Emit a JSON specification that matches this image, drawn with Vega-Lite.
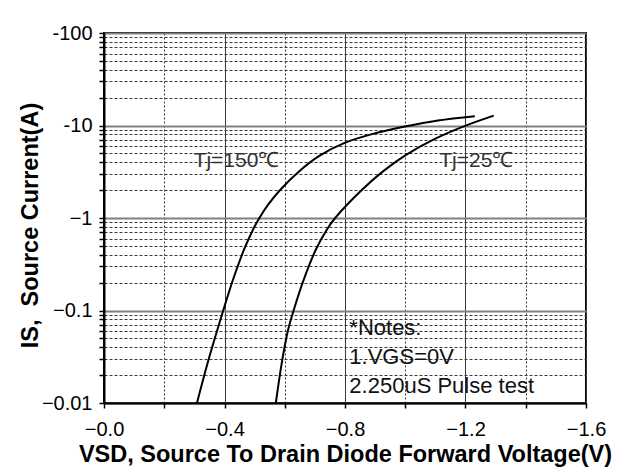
{
  "$schema": "https://vega.github.io/schema/vega-lite/v6.json",
  "width": 482,
  "height": 370,
  "autosize": {"type": "none"},
  "padding": {"left": 104, "top": 33, "right": 47, "bottom": 69},
  "background": "white",
  "config": {
    "font": "Liberation Sans",
    "view": {"stroke": "#000", "strokeWidth": 2}
  },
  "datasets": {
    "curves": [
      {"tj": "150", "vsd": 0.3086, "is": 0.01},
      {"tj": "150", "vsd": 0.347, "is": 0.0293},
      {"tj": "150", "vsd": 0.3958, "is": 0.1},
      {"tj": "150", "vsd": 0.4282, "is": 0.215},
      {"tj": "150", "vsd": 0.4647, "is": 0.454},
      {"tj": "150", "vsd": 0.4945, "is": 0.747},
      {"tj": "150", "vsd": 0.5157, "is": 1.0},
      {"tj": "150", "vsd": 0.5449, "is": 1.393},
      {"tj": "150", "vsd": 0.5853, "is": 2.02},
      {"tj": "150", "vsd": 0.6473, "is": 3.19},
      {"tj": "150", "vsd": 0.7159, "is": 4.72},
      {"tj": "150", "vsd": 0.7968, "is": 6.45},
      {"tj": "150", "vsd": 0.8896, "is": 8.07},
      {"tj": "150", "vsd": 0.999, "is": 9.73},
      {"tj": "150", "vsd": 1.1084, "is": 11.3},
      {"tj": "150", "vsd": 1.231, "is": 12.58},
      {"tj": "25", "vsd": 0.5704, "is": 0.01},
      {"tj": "25", "vsd": 0.59, "is": 0.027},
      {"tj": "25", "vsd": 0.6112, "is": 0.0618},
      {"tj": "25", "vsd": 0.6294, "is": 0.1},
      {"tj": "25", "vsd": 0.6589, "is": 0.198},
      {"tj": "25", "vsd": 0.703, "is": 0.454},
      {"tj": "25", "vsd": 0.7395, "is": 0.747},
      {"tj": "25", "vsd": 0.7673, "is": 1.0},
      {"tj": "25", "vsd": 0.8565, "is": 2.02},
      {"tj": "25", "vsd": 0.9261, "is": 3.19},
      {"tj": "25", "vsd": 1.0013, "is": 4.78},
      {"tj": "25", "vsd": 1.0981, "is": 7.16},
      {"tj": "25", "vsd": 1.1942, "is": 9.8},
      {"tj": "25", "vsd": 1.2937, "is": 12.8}
    ]
  },
  "layer": [
    {
      "data": {"name": "curves"},
      "mark": {"type": "line", "color": "#000", "strokeWidth": 2, "interpolate": "catmull-rom"},
      "encoding": {
        "x": {
          "field": "vsd",
          "type": "quantitative",
          "scale": {"domain": [0, 1.6], "nice": false, "zero": false},
          "axis": {
            "title": "VSD, Source To Drain Diode Forward Voltage(V)",
            "titleFont": "Liberation Sans",
            "titleFontSize": 23.5,
            "titleFontWeight": "bold",
            "titleColor": "#000",
            "titleY": 58.7,
            "titleBaseline": "alphabetic",
            "values": [0, 0.2, 0.4, 0.6, 0.8, 1.0, 1.2, 1.4, 1.6],
            "labelExpr": "abs(datum.value*2.5-round(datum.value*2.5))<0.01 ? '−'+format(datum.value,'.1f') : ''",
            "labelFontSize": 20,
            "labelColor": "#000",
            "labelBaseline": "alphabetic",
            "labelPadding": 27,
            "labelFlush": false,
            "labelOverlap": false,
            "tickSize": 5,
            "tickColor": "#000",
            "tickWidth": 1.5,
            "domainColor": "#000",
            "domainWidth": 2,
            "grid": true,
            "gridColor": "#3a3a3a",
            "gridOpacity": 1,
            "gridWidth": 1,
            "gridDash": {"condition": {"test": "abs(datum.value*2.5-round(datum.value*2.5))<0.01", "value": []}, "value": [2, 2]}
          }
        },
        "y": {
          "field": "is",
          "type": "quantitative",
          "scale": {"type": "log", "domain": [0.01, 100], "nice": false},
          "axis": {
            "title": "IS,\u00a0 Source Current(A)",
            "titleFont": "Liberation Sans",
            "titleFontSize": 23.5,
            "titleFontWeight": "bold",
            "titleColor": "#000",
            "titleX": -67,
            "titleY": 192,
            "titleBaseline": "alphabetic",
            "values": [0.01, 0.02, 0.03, 0.04, 0.05, 0.06, 0.07, 0.08, 0.09, 0.1, 0.2, 0.3, 0.4, 0.5, 0.6, 0.7, 0.8, 0.9, 1, 2, 3, 4, 5, 6, 7, 8, 9, 10, 20, 30, 40, 50, 60, 70, 80, 90, 100],
            "labelExpr": "abs(log(datum.value)/LN10-round(log(datum.value)/LN10))<0.01 ? (datum.value>=10 ? '-'+format(datum.value,'d') : '−'+format(datum.value,'~g')) : ''",
            "labelFontSize": 20,
            "labelColor": "#000",
            "labelPadding": 7,
            "labelOverlap": false,
            "labelFlush": false,
            "tickSize": 5,
            "tickColor": "#000",
            "tickWidth": 1.5,
            "domainColor": "#000",
            "domainWidth": 2,
            "grid": true,
            "gridOpacity": 1,
            "gridColor": {"condition": {"test": "abs(log(datum.value)/LN10-round(log(datum.value)/LN10))<0.01", "value": "#808080"}, "value": "#3a3a3a"},
            "gridWidth": {"condition": {"test": "abs(log(datum.value)/LN10-round(log(datum.value)/LN10))<0.01", "value": 2}, "value": 1},
            "gridDash": {"condition": {"test": "abs(log(datum.value)/LN10-round(log(datum.value)/LN10))<0.01", "value": []}, "value": [3, 2]}
          }
        },
        "detail": {"field": "tj", "type": "nominal"}
      }
    },
    {
      "data": {"values": [{}]},
      "mark": {"type": "text", "align": "left", "baseline": "alphabetic", "fontSize": 21, "color": "#333"},
      "encoding": {"x": {"datum": 0.2973}, "y": {"datum": 3.55}, "text": {"value": "Tj=150℃"}}
    },
    {
      "data": {"values": [{}]},
      "mark": {"type": "text", "align": "left", "baseline": "alphabetic", "fontSize": 21, "color": "#333"},
      "encoding": {"x": {"datum": 1.1127}, "y": {"datum": 3.55}, "text": {"value": "Tj=25℃"}}
    },
    {
      "data": {"values": [{}]},
      "mark": {"type": "text", "align": "left", "baseline": "alphabetic", "fontSize": 22, "color": "#111"},
      "encoding": {"x": {"datum": 0.8144}, "y": {"datum": 0.0546}, "text": {"value": "*Notes:"}}
    },
    {
      "data": {"values": [{}]},
      "mark": {"type": "text", "align": "left", "baseline": "alphabetic", "fontSize": 22, "color": "#111"},
      "encoding": {"x": {"datum": 0.8144}, "y": {"datum": 0.0265}, "text": {"value": "1.VGS=0V"}}
    },
    {
      "data": {"values": [{}]},
      "mark": {"type": "text", "align": "left", "baseline": "alphabetic", "fontSize": 22, "color": "#111"},
      "encoding": {"x": {"datum": 0.8144}, "y": {"datum": 0.01297}, "text": {"value": "2.250uS Pulse test"}}
    }
  ]
}
